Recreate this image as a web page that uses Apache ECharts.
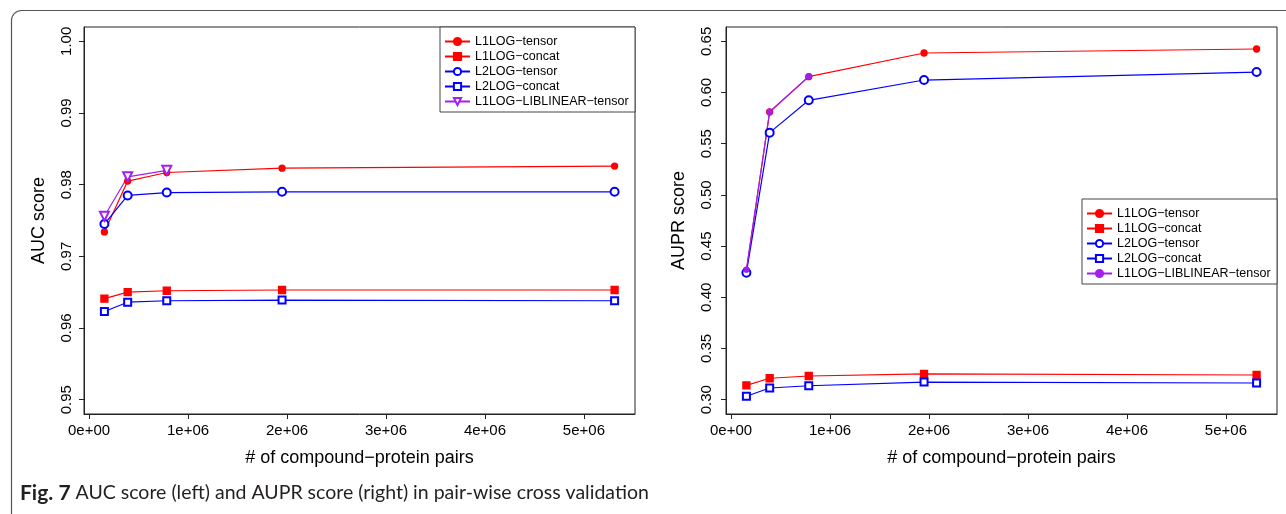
<!DOCTYPE html>
<html><head><meta charset="utf-8">
<script src="https://cdn.jsdelivr.net/npm/echarts@6/dist/echarts.min.js"></script>
<style>html,body{margin:0;padding:0;background:#fff}#c{width:1286px;height:514px}</style>
</head><body><div id="c"></div>
<script>
// ---- data ----
const pairCounts = [155000, 390000, 785000, 1950000, 5310000];
const seriesNames = ['L1LOG\u2212tensor', 'L1LOG\u2212concat', 'L2LOG\u2212tensor', 'L2LOG\u2212concat', 'L1LOG\u2212LIBLINEAR\u2212tensor'];

const aucL1Tensor   = [0.9734, 0.9805, 0.9817, 0.9823, 0.9826];
const aucL1Concat   = [0.9641, 0.9650, 0.9652, 0.9653, 0.9653];
const aucL2Tensor   = [0.9745, 0.9785, 0.9789, 0.9790, 0.9790];
const aucL2Concat   = [0.9623, 0.9636, 0.9638, 0.9639, 0.9638];
const aucLiblinear  = [0.9756, 0.9811, 0.9820];

const auprL1Tensor  = [0.4260, 0.5810, 0.6155, 0.6386, 0.6425];
const auprL1Concat  = [0.3140, 0.3209, 0.3231, 0.3251, 0.3241];
const auprL2Tensor  = [0.4240, 0.5608, 0.5924, 0.6122, 0.6200];
const auprL2Concat  = [0.3033, 0.3114, 0.3136, 0.3172, 0.3163];
const auprLiblinear = [0.4270, 0.5812, 0.6157];

const xTickValues = [0, 1000000, 2000000, 3000000, 4000000, 5000000];
const xTickLabels = ['0e+00', '1e+06', '2e+06', '3e+06', '4e+06', '5e+06'];
const aucTickValues  = [0.95, 0.96, 0.97, 0.98, 0.99, 1.00];
const auprTickValues = [0.30, 0.35, 0.40, 0.45, 0.50, 0.55, 0.60, 0.65];

// ---- layout / style ----
const FONT = 'Liberation Sans';
const X_MIN = -51200, X_MAX = 5516200;
const RED = '#FF0000', BLUE = '#0000FF', PURPLE = '#A020F0';

function pts(vals) { return vals.map((v, i) => [pairCounts[i], v]); }

function xAxisCfg(gi) {
  return {
    type: 'value', gridIndex: gi, min: X_MIN, max: X_MAX,
    axisLine: { show: true, onZero: false, lineStyle: { color: '#222', width: 1 } },
    splitLine: { show: false },
    axisTick: { show: true, customValues: xTickValues, length: 5, lineStyle: { color: '#222' } },
    axisLabel: {
      customValues: xTickValues, margin: 9, fontSize: 15, color: '#000', fontFamily: FONT,
      formatter: v => xTickLabels[xTickValues.indexOf(Math.round(v))]
    },
    name: '# of compound\u2212protein pairs', nameLocation: 'middle', nameGap: 35,
    nameTextStyle: { fontSize: 18, color: '#000', fontFamily: FONT }
  };
}
function yAxisCfg(gi, min, max, ticks, name, margin, gap) {
  return {
    type: 'value', gridIndex: gi, min: min, max: max,
    axisLine: { show: true, onZero: false, lineStyle: { color: '#222', width: 1 } },
    splitLine: { show: false },
    axisTick: { show: true, customValues: ticks, length: 5, lineStyle: { color: '#222' } },
    axisLabel: {
      customValues: ticks, rotate: 90, margin: margin, fontSize: 15, color: '#000', fontFamily: FONT,
      formatter: v => v.toFixed(2)
    },
    name: name, nameLocation: 'middle', nameGap: gap,
    nameTextStyle: { fontSize: 18, color: '#000', fontFamily: FONT }
  };
}
function lineSeries(name, data, gi, color, symbol, size, extra) {
  return Object.assign({
    type: 'line', name: name, xAxisIndex: gi, yAxisIndex: gi, data: pts(data),
    symbol: symbol, symbolSize: size, showAllSymbol: true,
    lineStyle: { color: color, width: 1.2 },
    itemStyle: { color: color, borderColor: color, borderWidth: 1.3 },
    emphasis: { disabled: true }
  }, extra || {});
}
const R_SUFFIX = '\u0000R';
function legendCfg(names, pos) {
  return Object.assign({
    data: names, orient: 'vertical', itemWidth: 25, itemHeight: 9, itemGap: 0,
    padding: [7, 4, 3, 4], borderColor: '#444', borderWidth: 1, backgroundColor: '#fff',
    selectedMode: false,
    formatter: n => n.replace(R_SUFFIX, ''),
    textStyle: { fontSize: 12.5, fontFamily: FONT, color: '#000', lineHeight: 15, width: 156 }
  }, pos);
}

const rightNames = seriesNames.map(n => n + R_SUFFIX);

const option = {
  animation: false,
  backgroundColor: '#fff',
  grid: [
    { left: 84, top: 27, width: 551, height: 387, show: true, borderColor: '#222', borderWidth: 1, containLabel: false },
    { left: 726, top: 27, width: 551, height: 387, show: true, borderColor: '#222', borderWidth: 1, containLabel: false }
  ],
  xAxis: [xAxisCfg(0), xAxisCfg(1)],
  yAxis: [
    yAxisCfg(0, 0.948, 1.002, aucTickValues, 'AUC score', 10, 36),
    yAxisCfg(1, 0.286, 0.664, auprTickValues, 'AUPR score', 12, 38)
  ],
  legend: [
    legendCfg(seriesNames, { right: 651, top: 27 }),
    legendCfg(rightNames, { right: 9, top: 199 })
  ],
  series: [
    lineSeries(seriesNames[0], aucL1Tensor, 0, RED, 'circle', 6),
    lineSeries(seriesNames[1], aucL1Concat, 0, RED, 'rect', 7),
    lineSeries(seriesNames[2], aucL2Tensor, 0, BLUE, 'emptyCircle', 8),
    lineSeries(seriesNames[3], aucL2Concat, 0, BLUE, 'emptyRect', 7),
    lineSeries(seriesNames[4], aucLiblinear, 0, PURPLE, 'emptyTriangle', 9, { symbolRotate: 180 }),
    lineSeries(rightNames[0], auprL1Tensor, 1, RED, 'circle', 6),
    lineSeries(rightNames[1], auprL1Concat, 1, RED, 'rect', 7),
    lineSeries(rightNames[2], auprL2Tensor, 1, BLUE, 'emptyCircle', 8),
    lineSeries(rightNames[3], auprL2Concat, 1, BLUE, 'emptyRect', 7),
    lineSeries(rightNames[4], auprLiblinear, 1, PURPLE, 'circle', 5)
  ],
  graphic: [
    { type: 'rect', silent: true, shape: { x: 11.5, y: 10.5, width: 1400, height: 600, r: 10 },
      style: { fill: 'none', stroke: '#555', lineWidth: 1.2 } },
    { type: 'text', silent: true, x: 20, y: 493,
      style: {
        text: '{b|Fig. 7} AUC score (left) and AUPR score (right) in pair-wise cross validation',
        rich: { b: { fontWeight: 'bold', fontSize: 21, fontFamily: 'Lato', fill: '#231f20' } },
        fontSize: 19.5, fontFamily: 'Lato', fill: '#231f20', verticalAlign: 'middle'
      } }
  ]
};
const chart = echarts.init(document.getElementById('c'), null, { renderer: 'canvas' });
chart.setOption(option);
</script>
</body></html>
